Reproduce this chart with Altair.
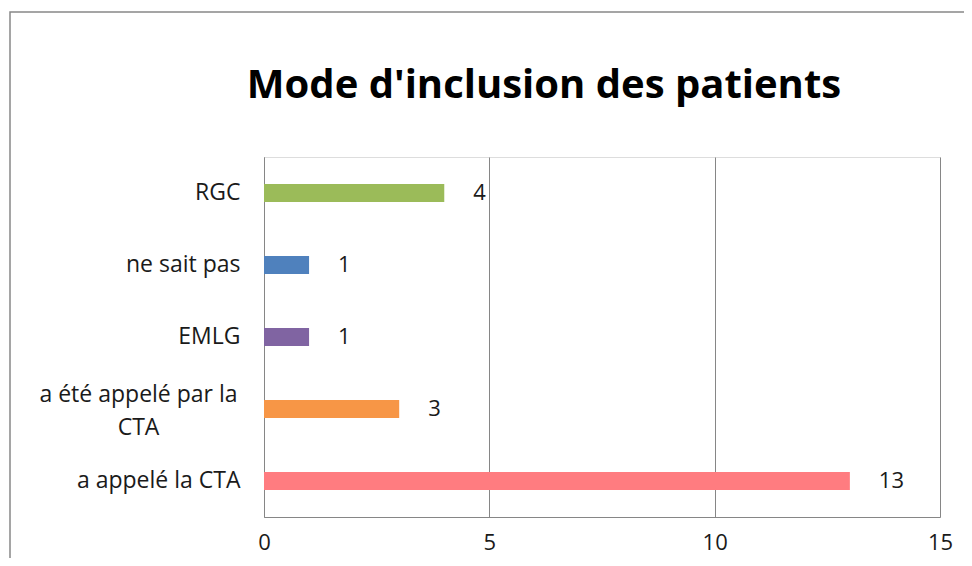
import altair as alt
import pandas as pd

title_text = "Mode d'inclusion des patients"
categories = ["RGC", "ne sait pas", "EMLG", "a été appelé par la CTA", "a appelé la CTA"]
values = [4, 1, 1, 3, 13]
colors = ["#9BBB59", "#4F81BD", "#8064A2", "#F79646", "#FF7C80"]
x_ticks = [0, 5, 10, 15]

df = pd.DataFrame({"cat": categories, "val": values, "col": colors})

FONT = "Open Sans"
AX = "#868686"
TXT = "#1a1a1a"
WRAP = "a été appelé par la CTA"
test = f"datum.value == '{WRAP}'"

y_enc = alt.Y(
    "cat:N",
    sort=categories,
    title=None,
    scale=alt.Scale(paddingInner=0, paddingOuter=0),
    axis=alt.Axis(
        ticks=False,
        domain=True,
        domainColor=AX,
        grid=False,
        labelFont=FONT,
        labelFontSize=23,
        labelColor=TXT,
        labelLineHeight=33,
        labelLimit=400,
        labelExpr=f"{test} ? ['a été appelé par la', 'CTA'] : datum.label",
        labelAlign={"condition": {"test": test, "value": "center"}, "value": "right"},
        labelPadding={"condition": {"test": test, "value": 126}, "value": 24},
        labelOffset={"condition": {"test": test, "value": -14}, "value": 0},
    ),
)

x_enc = alt.X(
    "val:Q",
    title=None,
    scale=alt.Scale(domain=[0, 15], nice=False),
    axis=alt.Axis(
        values=x_ticks,
        ticks=False,
        domain=True,
        domainColor=AX,
        grid=True,
        gridColor=AX,
        labelFont=FONT,
        labelFontSize=22,
        labelColor=TXT,
        labelPadding=15,
        labelFlush=False,
        labelOverlap=False,
    ),
)

bars = alt.Chart(df).mark_bar(size=18).encode(
    y=y_enc,
    x=x_enc,
    color=alt.Color("col:N", scale=None),
)

labels = alt.Chart(df).mark_text(
    align="left", baseline="middle", dx=29, font=FONT, fontSize=22, color=TXT
).encode(
    y=alt.Y("cat:N", sort=categories),
    x="val:Q",
    text="val:Q",
)

single = pd.DataFrame({"t": [title_text]})
frame = alt.Chart(single).mark_rect(
    fill=None, stroke="#888888", strokeWidth=1.5, clip=False
).encode(
    x=alt.value(-254), x2=alt.value(2000), y=alt.value(-145), y2=alt.value(2000)
)

title = alt.Chart(single).mark_text(
    align="center", baseline="alphabetic", font=FONT, fontSize=40,
    fontWeight="bold", color="#000000"
).encode(
    x=alt.value(280), y=alt.value(-59), text="t:N"
)

chart = alt.layer(frame, title, bars, labels).properties(
    width=676,
    height=360,
    autosize=alt.AutoSizeParams(type="none"),
    padding={"left": 256, "top": 149, "right": 24, "bottom": 41},
).configure_view(stroke=None).configure(background="white")

chart.save("out.html", embed_options={"renderer": "svg", "actions": False})
